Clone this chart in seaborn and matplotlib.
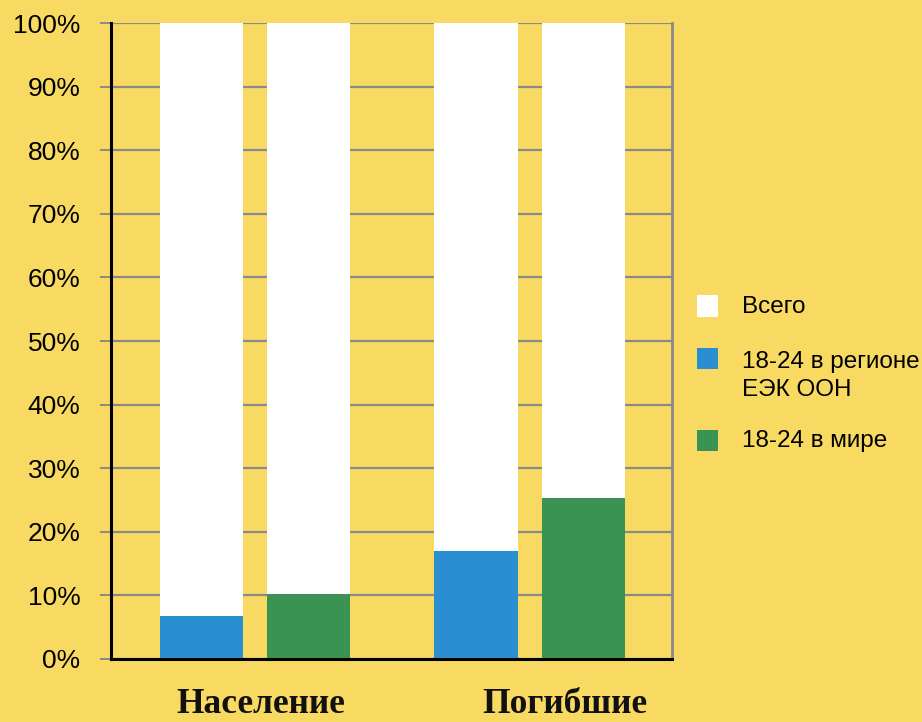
import matplotlib
matplotlib.use("Agg")
import matplotlib.pyplot as plt
import seaborn as sns
import pandas as pd
from matplotlib.patches import Rectangle

# Data
groups = ["Население", "Погибшие"]
series = ["18-24 в регионе\nЕЭК ООН", "18-24 в мире"]
region_vals = [6.8, 17.0]
world_vals = [10.2, 25.3]
total_vals = [100, 100]
total_label = "Всего"
yticks = [0, 10, 20, 30, 40, 50, 60, 70, 80, 90, 100]

bg = "#F8DA63"
blue = "#2A8FD0"
green = "#3A9352"

sns.set_theme(style="white")
plt.rcParams["font.family"] = ["Liberation Sans", "DejaVu Sans"]

df = pd.DataFrame({
    "group": groups * 2,
    "series": [series[0]] * 2 + [series[1]] * 2,
    "value": region_vals + world_vals,
})
df_total = pd.DataFrame({
    "group": groups * 2,
    "series": [series[0]] * 2 + [series[1]] * 2,
    "value": total_vals * 2,
})

W, H = 922, 722
fig = plt.figure(figsize=(W / 100, H / 100), dpi=100, facecolor=bg)
ax = fig.add_axes([0.1204, 0.0873, 0.6085, 0.8808])
ax.set_facecolor(bg)

# white "total" bars behind the share bars
sns.barplot(data=df_total, x="group", y="value", hue="series", order=groups,
            hue_order=series, palette=["white", "white"], width=0.78, gap=0.224,
            dodge=True, legend=False, ax=ax, zorder=2, linewidth=0, saturation=1)
sns.barplot(data=df, x="group", y="value", hue="series", order=groups,
            hue_order=series, palette=[blue, green], width=0.78, gap=0.224,
            dodge=True, legend=False, ax=ax, zorder=3, linewidth=0, saturation=1)

ax.set_xlim(-0.5246, 1.519)
ax.set_ylim(0, 100)
ax.set_yticks(yticks)
ax.set_yticklabels([f"{v}%" for v in yticks], fontsize=19, color="black")
ax.yaxis.grid(True, color="#8a8a8a", linewidth=1.6, zorder=1)
ax.set_axisbelow(True)
ax.tick_params(axis="y", length=8, width=1.4, color="#8a8a8a", pad=14, left=True)
ax.tick_params(axis="x", length=0, labelbottom=False)
ax.set_xlabel("")
ax.set_ylabel("")

for s in ["left", "bottom"]:
    ax.spines[s].set_color("black")
    ax.spines[s].set_linewidth(2.2)
    ax.spines[s].set_zorder(5)
ax.spines["right"].set_color("#8a8a8a")
ax.spines["right"].set_linewidth(2)
ax.spines["top"].set_visible(False)

# group labels below the axis
label_x = [0.022, 1.129]
for x, g in zip(label_x, groups):
    ax.text(x, -9.75, g, ha="center", va="bottom", fontsize=25.5, fontweight="bold",
            family=["Liberation Serif", "DejaVu Serif"], color="#111111",
            clip_on=False)

# legend: square swatches with labels to the right
def fx(px):
    return px / W

def fy(py):
    return 1 - py / H

swatches = [("white", 306, [(total_label, 307)]),
            (blue, 358.5, [("18-24 в регионе", 362), ("ЕЭК ООН", 390)]),
            (green, 440.5, [(series[1], 441)])]
size = 21
for color, cy, lines in swatches:
    fig.add_artist(Rectangle((fx(697), fy(cy + size / 2)), size / W, size / H,
                             transform=fig.transFigure, facecolor=color,
                             edgecolor="none"))
    for text, ty in lines:
        fig.text(fx(742), fy(ty), text, ha="left", va="center", fontsize=17.5,
                 color="black")

fig.savefig("out.png", dpi=100, facecolor=bg)
